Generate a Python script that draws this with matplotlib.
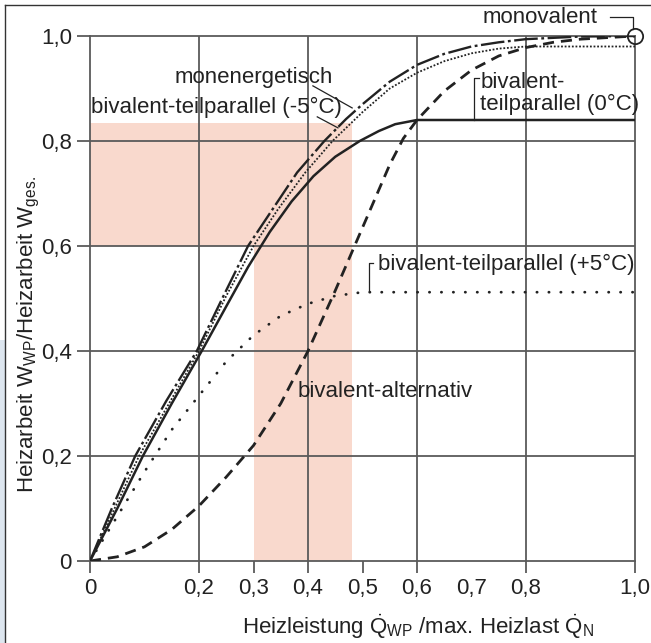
import numpy as np
import matplotlib.pyplot as plt
from matplotlib.patches import Rectangle

plt.rcParams['font.family'] = ['Liberation Sans', 'DejaVu Sans']
plt.rcParams['mathtext.fontset'] = 'custom'
plt.rcParams['mathtext.rm'] = 'Liberation Sans'

# curves (x = Q_WP/Q_N, y = W_WP/W_ges)
x_monoenerg = [0, 0.04, 0.083, 0.14, 0.196, 0.245, 0.29, 0.335, 0.38, 0.43, 0.47, 0.5,
               0.55, 0.6, 0.65, 0.7, 0.75, 0.8, 0.9, 1.0]
y_monoenerg = [0, 0.1, 0.2, 0.305, 0.4, 0.505, 0.6, 0.67, 0.74, 0.8, 0.842, 0.87,
               0.913, 0.945, 0.966, 0.98, 0.988, 0.994, 0.999, 1.0]

x_minus5 = [0, 0.045, 0.09, 0.145, 0.2, 0.25, 0.3, 0.345, 0.395, 0.445, 0.5, 0.55,
            0.6, 0.65, 0.7, 0.75, 0.8, 1.0]
y_minus5 = [0, 0.1, 0.2, 0.3, 0.4, 0.505, 0.6, 0.67, 0.74, 0.8, 0.855, 0.9,
            0.93, 0.952, 0.967, 0.976, 0.98, 0.98]

x_zero = [0, 0.05, 0.097, 0.15, 0.205, 0.25, 0.29, 0.33, 0.37, 0.41, 0.45, 0.495,
          0.53, 0.56, 0.6, 1.0]
y_zero = [0, 0.1, 0.2, 0.3, 0.4, 0.485, 0.56, 0.627, 0.685, 0.733, 0.77, 0.8,
          0.819, 0.832, 0.84, 0.84]

x_plus5 = [0, 0.05, 0.1, 0.15, 0.2, 0.25, 0.3, 0.35, 0.4, 0.45, 0.5, 1.0]
y_plus5 = [0, 0.085, 0.17, 0.25, 0.315, 0.38, 0.43, 0.467, 0.49, 0.505, 0.512, 0.512]

x_altern = [0, 0.05, 0.1, 0.15, 0.2, 0.25, 0.3, 0.35, 0.4, 0.45, 0.5, 0.55, 0.575,
            0.6, 0.65, 0.7, 0.75, 0.8, 0.85, 0.9, 1.0]
y_altern = [0, 0.008, 0.027, 0.06, 0.105, 0.16, 0.22, 0.3, 0.4, 0.515, 0.635, 0.755, 0.805,
            0.84, 0.895, 0.935, 0.962, 0.978, 0.988, 0.994, 1.0]

xticks = [0, 0.2, 0.3, 0.4, 0.5, 0.6, 0.7, 0.8, 1.0]
xtick_labels = ['0', '0,2', '0,3', '0,4', '0,5', '0,6', '0,7', '0,8', '1,0']
yticks = [0, 0.2, 0.4, 0.6, 0.8, 1.0]
ytick_labels = ['0', '0,2', '0,4', '0,6', '0,8', '1,0']

fs = 16
ink = '#222222'
gridc = '#5a5a5a'

fig = plt.figure(figsize=(6.51, 6.43), dpi=100)
ax = fig.add_axes([90/651, 1 - 561/643, 545/651, 525/643])

# pink band
pink = '#f9d9cd'
ax.add_patch(Rectangle((0, 0.6), 0.48, 0.234, color=pink, lw=0, zorder=0))
ax.add_patch(Rectangle((0.3, 0), 0.18, 0.6, color=pink, lw=0, zorder=0))

for v in [0.2, 0.4, 0.6, 0.8]:
    ax.axvline(v, color=gridc, lw=1.3, zorder=1)
    ax.axhline(v, color=gridc, lw=1.3, zorder=1)

ax.plot(x_monoenerg, y_monoenerg, color=ink, lw=1.7, ls=(0, (10, 1.5, 1.2, 1.5)), zorder=3)
ax.plot(x_minus5, y_minus5, color=ink, lw=1.3, ls=(0, (1, 1)), zorder=3)
ax.plot(x_zero, y_zero, color=ink, lw=1.8, zorder=3)
ax.plot(x_plus5, y_plus5, color=ink, lw=2, ls=(0, (0.1, 4.2)), dash_capstyle='round', zorder=3)
ax.plot(x_altern, y_altern, color=ink, lw=2, ls=(0, (4, 2.5)), zorder=3)

ax.plot([1.0], [1.0], 'o', ms=11, mfc='none', mec=ink, mew=1.3, clip_on=False, zorder=4)

ax.set_xlim(0, 1)
ax.set_ylim(0, 1)
ax.set_xticks(xticks)
ax.set_xticklabels(xtick_labels)
ax.set_yticks(yticks)
ax.set_yticklabels(ytick_labels)
ax.tick_params(axis='x', length=8.5, width=1.3, color=gridc, pad=4, labelsize=fs, labelcolor=ink)
ax.tick_params(axis='y', length=9.5, width=1.3, color=gridc, pad=3.5, labelsize=fs, labelcolor=ink)
ax.xaxis.get_major_ticks()[6].tick1line.set_visible(False)
for s in ax.spines.values():
    s.set_color(gridc)
    s.set_linewidth(1.3)

# labels and leaders
ax.text(0.826, 1.036, 'monovalent', fontsize=fs, color=ink, ha='center', va='center', clip_on=False)
ax.plot([0.954, 0.997, 0.997], [1.036, 1.036, 1.013], color=ink, lw=0.9, clip_on=False)

ax.text(0.156, 0.92, 'monenergetisch', fontsize=fs, color=ink, ha='left', va='center')
ax.plot([0.409, 0.481], [0.905, 0.863], color=ink, lw=0.9)

ax.text(0.002, 0.863, 'bivalent-teilparallel (-5°C)', fontsize=fs, color=ink, ha='left', va='center')
ax.plot([0.417, 0.455], [0.846, 0.825], color=ink, lw=0.9)

ax.text(0.716, 0.912, 'bivalent-', fontsize=fs, color=ink, ha='left', va='center')
ax.text(0.716, 0.869, 'teilparallel (0°C)', fontsize=fs, color=ink, ha='left', va='center')
ax.plot([0.714, 0.705, 0.705], [0.92, 0.92, 0.84], color=ink, lw=0.9)

ax.text(0.528, 0.564, 'bivalent-teilparallel (+5°C)', fontsize=fs, color=ink, ha='left', va='center')
ax.plot([0.52, 0.512, 0.512], [0.568, 0.568, 0.515], color=ink, lw=0.9)

ax.text(0.38, 0.322, 'bivalent-alternativ', fontsize=fs, color=ink, ha='left', va='center')

fig.text(0.045, 0.479, r'Heizarbeit W$_\mathregular{WP}$/Heizarbeit W$_\mathregular{ges.}$',
         fontsize=fs, color=ink, rotation=90, ha='center', va='center')
fig.text(0.642, 0.025, r'Heizleistung $\dot{\mathrm{Q}}_\mathrm{WP}$ /max. Heizlast $\dot{\mathrm{Q}}_\mathrm{N}$',
         fontsize=fs, color=ink, ha='center', va='center')

# outer frame of the picture
fig.add_artist(Rectangle((0, 0), 5/651, 1 - 340/643, transform=fig.transFigure, color='#dde6ef', lw=0))
fig.add_artist(plt.Line2D([5/651, 5/651], [0, 1 - 5/643], transform=fig.transFigure, color='#333333', lw=1))
fig.add_artist(plt.Line2D([5/651, 1], [1 - 5/643, 1 - 5/643], transform=fig.transFigure, color='#333333', lw=1))

fig.savefig('out.png', dpi=100)
